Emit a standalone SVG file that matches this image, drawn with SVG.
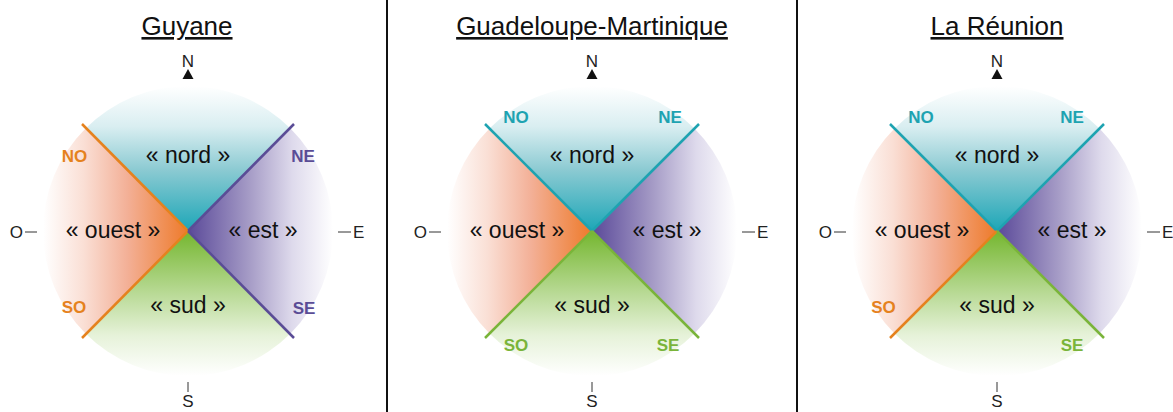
<svg xmlns="http://www.w3.org/2000/svg" width="1173" height="412" viewBox="0 0 1173 412">
<style>
.title{font-family:"Liberation Sans",Arial,sans-serif;font-size:26px;text-anchor:middle;text-decoration:underline;fill:#111}
.sec{font-family:"Liberation Sans",Arial,sans-serif;font-size:23px;text-anchor:middle;fill:#111}
.dir{font-family:"Liberation Sans",Arial,sans-serif;font-size:17px;font-weight:bold;text-anchor:middle}
.cmp{font-family:"Liberation Sans",Arial,sans-serif;font-size:17px;fill:#222}
.tick{stroke:#333;stroke-width:1}
.ln{stroke-width:2.5;fill:none;stroke-linecap:butt}
.teal{fill:#1EA3B1}.orange{fill:#E5821E}.purple{fill:#5A4C96}.green{fill:#7AB43A}
.lteal{stroke:#1EA3B1}.lorange{stroke:#E5821E}.lpurple{stroke:#5A4C96}.lgreen{stroke:#7AB43A}
</style>
<defs>
<linearGradient id="gN" x1="0" y1="1" x2="0" y2="0">
<stop offset="0" stop-color="#1CA6B7"/><stop offset="0.42" stop-color="#8BCAD2"/><stop offset="0.72" stop-color="#D9EEF1"/><stop offset="1" stop-color="#FFFFFF"/>
</linearGradient>
<linearGradient id="gS" x1="0" y1="0" x2="0" y2="1">
<stop offset="0" stop-color="#74B62E"/><stop offset="0.42" stop-color="#B7D993"/><stop offset="0.72" stop-color="#E6F2D9"/><stop offset="1" stop-color="#FFFFFF"/>
</linearGradient>
<linearGradient id="gW" x1="1" y1="0" x2="0" y2="0">
<stop offset="0" stop-color="#EE7A2A"/><stop offset="0.42" stop-color="#F3B097"/><stop offset="0.72" stop-color="#FADFD5"/><stop offset="1" stop-color="#FFFFFF"/>
</linearGradient>
<linearGradient id="gE" x1="0" y1="0" x2="1" y2="0">
<stop offset="0" stop-color="#5A4999"/><stop offset="0.42" stop-color="#A59BC6"/><stop offset="0.72" stop-color="#DEDAEC"/><stop offset="1" stop-color="#FFFFFF"/>
</linearGradient>
<g id="rose">
<path d="M0 0 L-102.5 -102.5 A145 145 0 0 1 102.5 -102.5 Z" fill="url(#gN)"/>
<path d="M0 0 L102.5 102.5 A145 145 0 0 1 -102.5 102.5 Z" fill="url(#gS)"/>
<path d="M0 0 L-102.5 102.5 A145 145 0 0 1 -102.5 -102.5 Z" fill="url(#gW)"/>
<path d="M0 0 L102.5 -102.5 A145 145 0 0 1 102.5 102.5 Z" fill="url(#gE)"/>
<text class="sec" x="0" y="-68">« nord »</text>
<text class="sec" x="0" y="82">« sud »</text>
<text class="sec" x="-75" y="7">« ouest »</text>
<text class="sec" x="75" y="7">« est »</text>
<text class="cmp" x="0" y="-164" text-anchor="middle">N</text>
<polygon points="0,-162 -5.5,-152 5.5,-152" fill="#111"/>
<line class="tick" x1="0" y1="151" x2="0" y2="161"/>
<text class="cmp" x="0" y="176" text-anchor="middle">S</text>
<line class="tick" x1="-163" y1="1" x2="-151" y2="1"/>
<text class="cmp" x="-165" y="7" text-anchor="end">O</text>
<line class="tick" x1="150" y1="1" x2="163" y2="1"/>
<text class="cmp" x="165" y="7">E</text>
</g>
</defs>
<g id="dividers">
<line x1="387" y1="0" x2="387" y2="412" stroke="#111" stroke-width="2"/>
<line x1="797" y1="0" x2="797" y2="412" stroke="#111" stroke-width="2"/>
</g>
<g id="guyane">
<text class="title" x="187" y="35">Guyane</text>
<use href="#rose" x="188" y="231"/>
<g id="guyane-labels">
<text class="dir orange" x="74.5" y="162">NO</text>
<text class="dir purple" x="303" y="162">NE</text>
<text class="dir orange" x="74" y="313">SO</text>
<text class="dir purple" x="304" y="314">SE</text>
</g>
</g>
<g id="guadeloupe">
<text class="title" x="592" y="35">Guadeloupe-Martinique</text>
<use href="#rose" x="592" y="231"/>
<g id="guadeloupe-labels">
<text class="dir teal" x="516" y="123">NO</text>
<text class="dir teal" x="670" y="123">NE</text>
<text class="dir green" x="516" y="351">SO</text>
<text class="dir green" x="668" y="351">SE</text>
</g>
</g>
<g id="reunion">
<text class="title" x="997" y="35">La Réunion</text>
<use href="#rose" x="997" y="231"/>
<g id="reunion-labels">
<text class="dir teal" x="921" y="123">NO</text>
<text class="dir teal" x="1072" y="123">NE</text>
<text class="dir orange" x="883.5" y="313">SO</text>
<text class="dir green" x="1072" y="351">SE</text>
</g>
</g>
<g id="connectors">
<line class="ln lorange" x1="82" y1="124" x2="188" y2="231"/>
<line class="ln lpurple" x1="294" y1="124" x2="188" y2="231"/>
<line class="ln lorange" x1="82" y1="338" x2="188" y2="231"/>
<line class="ln lpurple" x1="294" y1="338" x2="188" y2="231"/>
<line class="ln lteal" x1="485" y1="124" x2="592" y2="231"/>
<line class="ln lteal" x1="699" y1="124" x2="592" y2="231"/>
<line class="ln lgreen" x1="485" y1="338" x2="592" y2="231"/>
<line class="ln lgreen" x1="699" y1="338" x2="592" y2="231"/>
<line class="ln lteal" x1="890" y1="124" x2="997" y2="231"/>
<line class="ln lteal" x1="1104" y1="124" x2="997" y2="231"/>
<line class="ln lorange" x1="890" y1="338" x2="997" y2="231"/>
<line class="ln lgreen" x1="1104" y1="338" x2="997" y2="231"/>
</g>
</svg>
